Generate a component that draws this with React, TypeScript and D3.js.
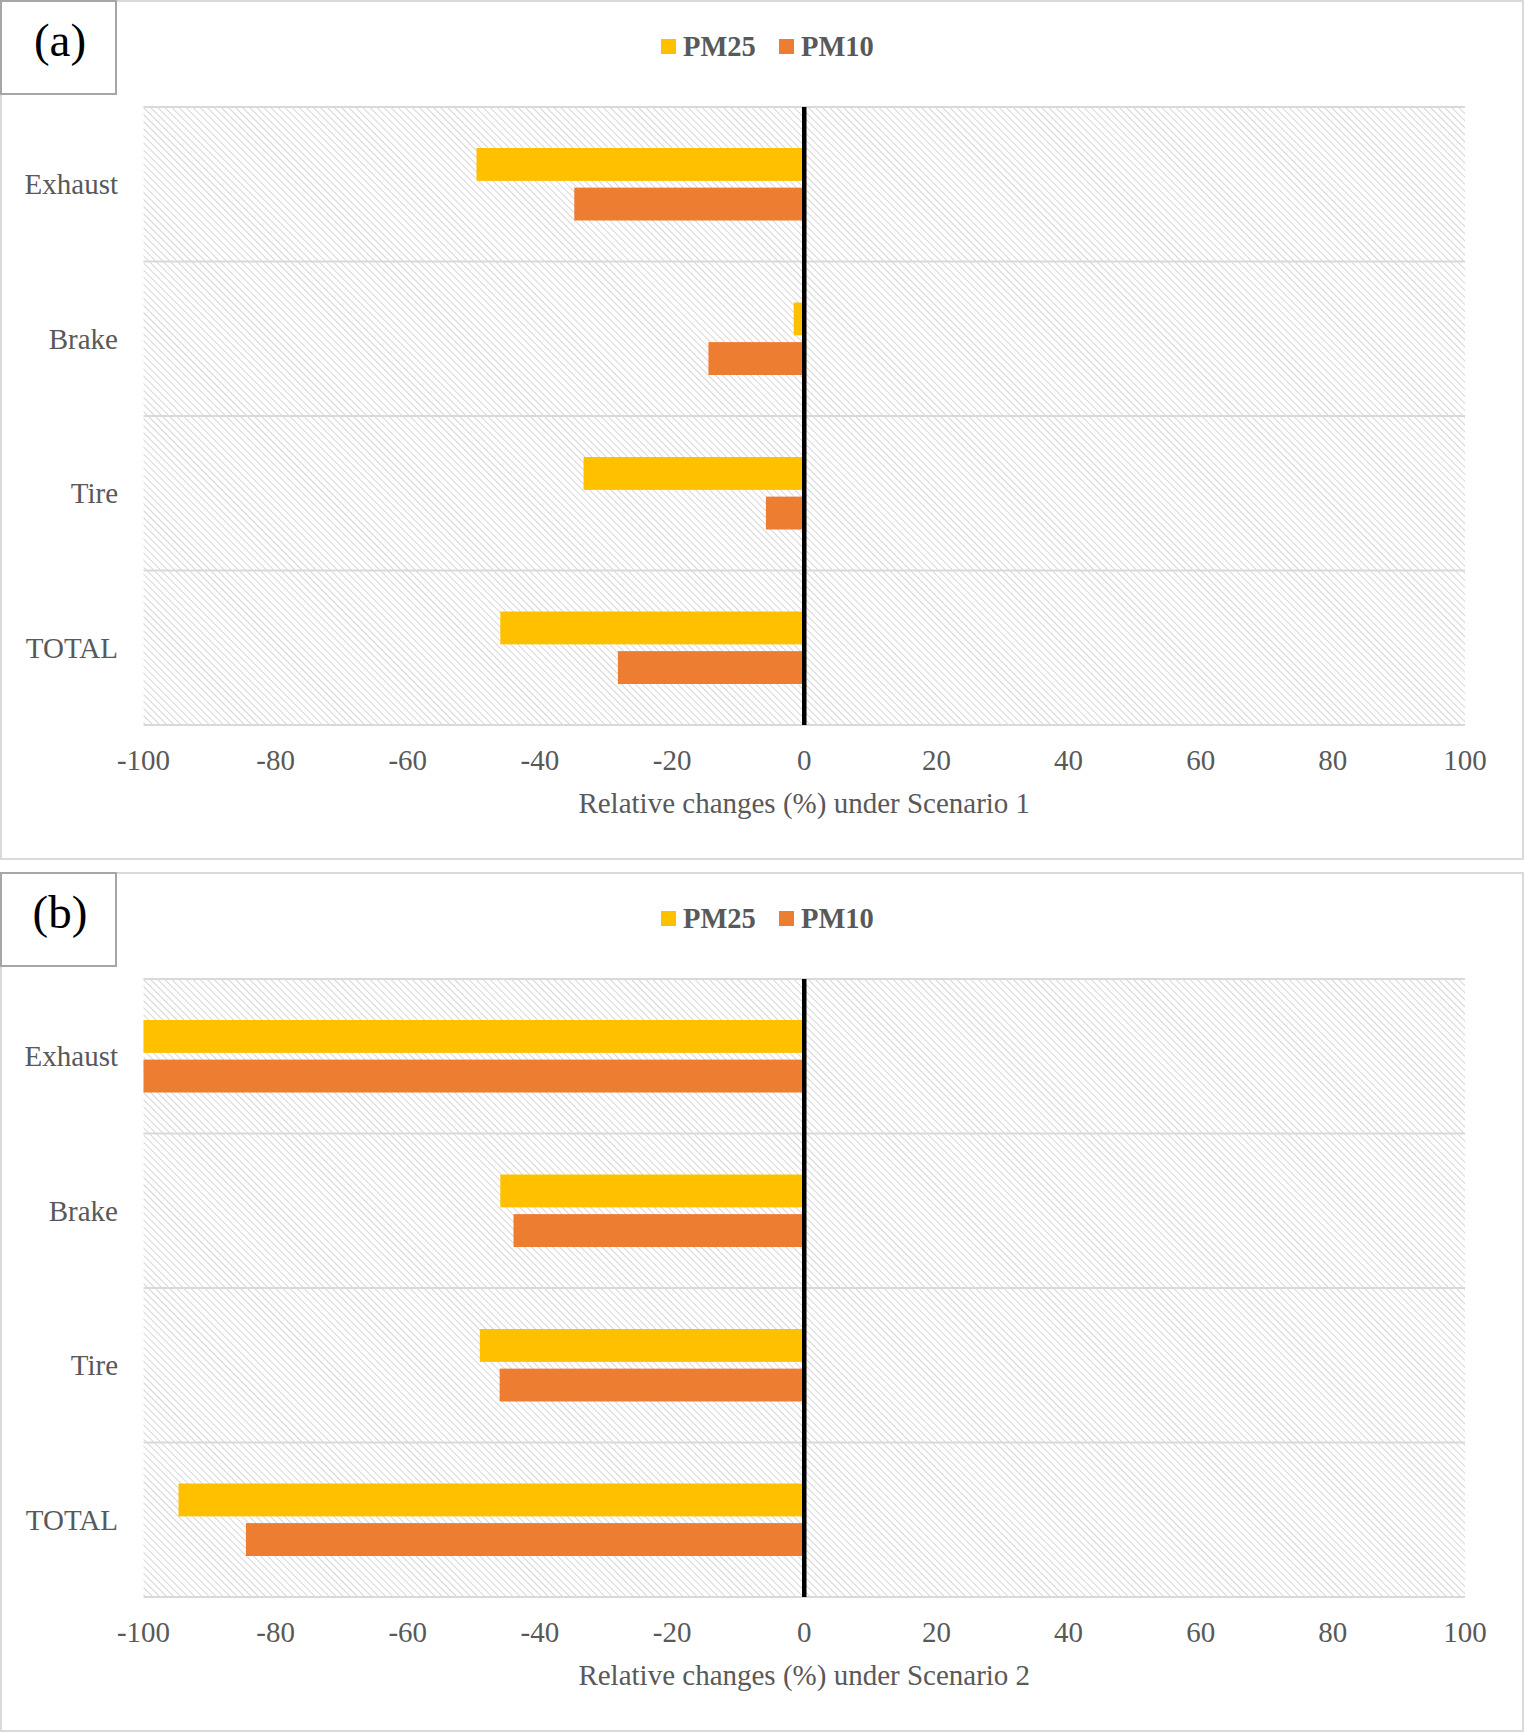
import React, { useEffect, useRef, ReactElement } from 'react'
import * as d3 from 'd3'

const categories = ['Exhaust', 'Brake', 'Tire', 'TOTAL']
const seriesNames = ['PM25', 'PM10']
const seriesColors = ['#FFC000', '#ED7D31']
const scenario1PM25 = [-49.6, -1.6, -33.4, -46.0]
const scenario1PM10 = [-34.8, -14.5, -5.8, -28.2]
const scenario2PM25 = [-100, -46.0, -49.1, -94.7]
const scenario2PM10 = [-100, -44.0, -46.1, -84.5]
const xTicks = [-100, -80, -60, -40, -20, 0, 20, 40, 60, 80, 100]

const FONT = '"Liberation Serif", "Times New Roman", serif'

interface IPanelProps {
  tag: string
  title: string
  pm25: number[]
  pm10: number[]
  top: number
}

const Panel = ({ tag, title, pm25, pm10, top }: IPanelProps): ReactElement => {
  const ref = useRef<SVGGElement>(null)

  const drawPanel = () => {
    const g = d3.select(ref.current)
    g.selectAll('*').remove()

    const panelW = 1522
    const panelH = 858
    const plot = { left: 143.5, right: 1465, top: 107, bottom: 725 }

    // outer frame
    g.append('rect')
      .attr('x', 1).attr('y', 1)
      .attr('width', panelW).attr('height', panelH)
      .attr('fill', '#fff')
      .attr('stroke', '#d9d9d9')
      .attr('stroke-width', 2)

    // (a) / (b) box
    g.append('rect')
      .attr('x', 1).attr('y', 1)
      .attr('width', 115).attr('height', 93)
      .attr('fill', '#fff')
      .attr('stroke', '#a6a6a6')
      .attr('stroke-width', 2)
    g.append('text')
      .attr('x', 60).attr('y', 56)
      .attr('text-anchor', 'middle')
      .style('font-family', FONT)
      .style('font-size', '47px')
      .style('fill', '#000')
      .text(tag)

    const x = d3.scaleLinear().domain([-100, 100]).range([plot.left, plot.right])
    const y = d3.scaleBand<string>().domain(categories).range([plot.top, plot.bottom])
    const bw = y.bandwidth()
    const ySub = d3.scaleBand<string>()
      .domain(seriesNames)
      .range([41, bw - 41])
      .paddingInner(0.17)

    // hatched plot background
    g.append('rect')
      .attr('x', plot.left).attr('y', plot.top)
      .attr('width', plot.right - plot.left)
      .attr('height', plot.bottom - plot.top)
      .attr('fill', 'url(#hatch)')

    // horizontal category separators
    const bounds = categories.map(c => y(c) as number).concat([plot.bottom])
    g.selectAll('line.sep')
      .data(bounds)
      .join('line')
      .attr('class', 'sep')
      .attr('x1', plot.left).attr('x2', plot.right)
      .attr('y1', d => d).attr('y2', d => d)
      .attr('stroke', '#d9d9d9')
      .attr('stroke-width', 2)

    // bars
    const rows = categories.flatMap((c, i) => [
      { cat: c, series: seriesNames[0], value: pm25[i], color: seriesColors[0] },
      { cat: c, series: seriesNames[1], value: pm10[i], color: seriesColors[1] }
    ])
    g.selectAll('rect.bar')
      .data(rows)
      .join('rect')
      .attr('class', 'bar')
      .attr('x', d => x(Math.min(0, d.value)))
      .attr('width', d => Math.abs(x(d.value) - x(0)))
      .attr('y', d => (y(d.cat) as number) + (ySub(d.series) as number))
      .attr('height', ySub.bandwidth())
      .attr('fill', d => d.color)

    // zero line
    g.append('line')
      .attr('x1', x(0)).attr('x2', x(0))
      .attr('y1', plot.top).attr('y2', plot.bottom)
      .attr('stroke', '#000')
      .attr('stroke-width', 4.5)

    // category labels
    g.selectAll('text.cat')
      .data(categories)
      .join('text')
      .attr('class', 'cat')
      .attr('x', 118)
      .attr('y', d => (y(d) as number) + bw / 2 + 10)
      .attr('text-anchor', 'end')
      .style('font-family', FONT)
      .style('font-size', '29px')
      .style('fill', '#595959')
      .text(d => d)

    // x tick labels
    g.selectAll('text.tick')
      .data(xTicks)
      .join('text')
      .attr('class', 'tick')
      .attr('x', d => x(d))
      .attr('y', 770)
      .attr('text-anchor', 'middle')
      .style('font-family', FONT)
      .style('font-size', '29px')
      .style('fill', '#595959')
      .text(d => String(d))

    // axis title
    g.append('text')
      .attr('x', (plot.left + plot.right) / 2)
      .attr('y', 813)
      .attr('text-anchor', 'middle')
      .style('font-family', FONT)
      .style('font-size', '29px')
      .style('fill', '#595959')
      .text(title)

    // legend
    const legend = g.append('g')
    const legendX = [661, 779]
    seriesNames.forEach((name, i) => {
      legend.append('rect')
        .attr('x', legendX[i]).attr('y', 39)
        .attr('width', 15).attr('height', 15)
        .attr('fill', seriesColors[i])
      legend.append('text')
        .attr('x', legendX[i] + 22).attr('y', 56)
        .style('font-family', FONT)
        .style('font-size', '28.5px')
        .style('font-weight', 'bold')
        .style('fill', '#595959')
        .text(name)
    })
  }

  useEffect(drawPanel, [tag, title, pm25, pm10])

  return <g ref={ref} transform={`translate(0,${top})`} />
}

const App = (): ReactElement => {
  return (
    <svg width={1526} height={1734} style={{ position: 'absolute', left: 0, top: 0, background: '#fff' }}>
      <defs>
        <pattern id="hatch" patternUnits="userSpaceOnUse" width={5} height={5} patternTransform="rotate(-45)">
          <line x1={0} y1={0} x2={0} y2={5} stroke="#c9c9c9" strokeWidth={1.5} />
        </pattern>
      </defs>
      <Panel tag="(a)" title="Relative changes (%) under Scenario 1" pm25={scenario1PM25} pm10={scenario1PM10} top={0} />
      <Panel tag="(b)" title="Relative changes (%) under Scenario 2" pm25={scenario2PM25} pm10={scenario2PM10} top={872} />
    </svg>
  )
}

export default App
